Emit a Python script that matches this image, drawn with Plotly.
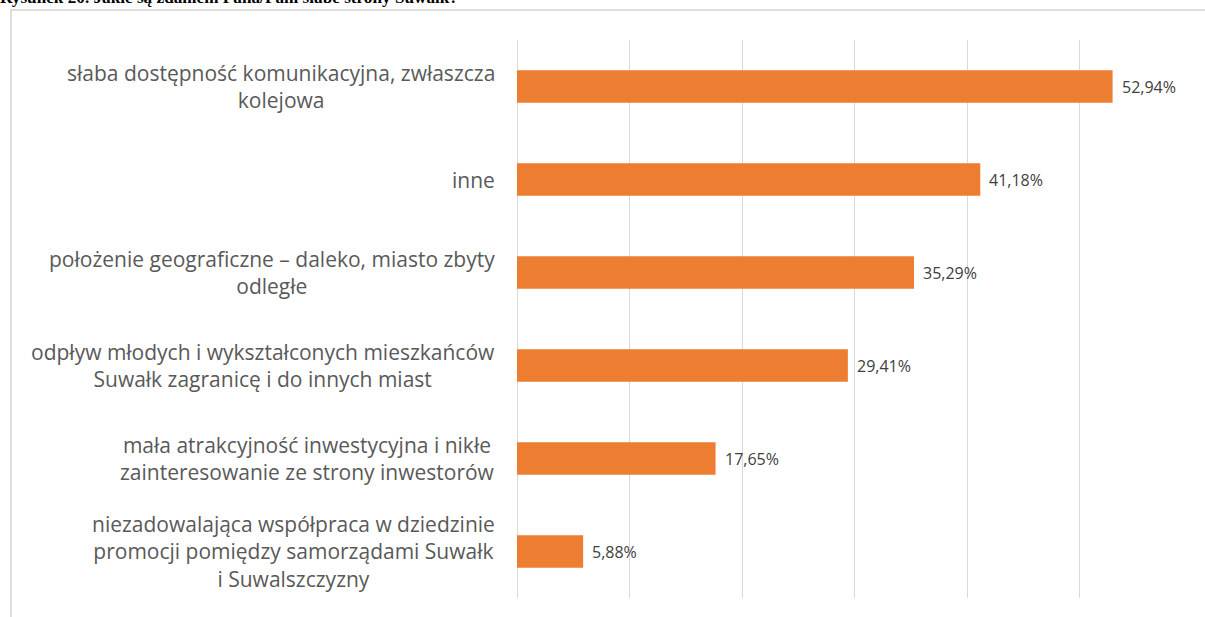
import plotly.graph_objects as go

categories = [
    "słaba dostępność komunikacyjna, zwłaszcza<br>kolejowa",
    "inne",
    "położenie geograficzne – daleko, miasto zbyty<br>odległe",
    "odpływ młodych i wykształconych mieszkańców<br>Suwałk zagranicę i do innych miast",
    "mała atrakcyjność inwestycyjna i nikłe<br>zainteresowanie ze strony inwestorów",
    "niezadowalająca współpraca w dziedzinie<br>promocji pomiędzy samorządami Suwałk<br>i Suwalszczyzny",
]
values = [52.94, 41.18, 35.29, 29.41, 17.65, 5.88]
title_text = "Rysunek 20. Jakie są zdaniem Pana/Pani słabe strony Suwałk?"

labels = [f"{v:.2f}".replace(".", ",") + "%" for v in values]

W, H = 1205, 617
ml, mt = 517, 40
mr = W - 1192
mb = H - 598
pw, ph = W - ml - mr, H - mt - mb

def px_x(px):
    return (px - ml) / pw

def px_y(py):
    return (H - mb - py) / ph

fig = go.Figure()
fig.add_trace(go.Bar(
    x=values, y=categories, orientation="h",
    marker=dict(color="#ED7D31", line=dict(width=0)),
    width=0.35,
    hoverinfo="skip",
))

annotations = []
for c in categories:
    annotations.append(dict(
        x=0, xref="paper", y=c, yref="y", xanchor="right", yanchor="middle",
        xshift=-20, text=c, showarrow=False, align="center",
        font=dict(family="Open Sans, Lato, sans-serif", size=21, color="#595959"),
    ))
for c, v, t in zip(categories, values, labels):
    annotations.append(dict(
        x=v, xref="x", y=c, yref="y", xanchor="left", yanchor="middle",
        xshift=7, text=t, showarrow=False,
        font=dict(family="Open Sans, Lato, sans-serif", size=16, color="#404040"),
    ))
annotations.append(dict(
    x=px_x(-2), xref="paper", y=px_y(-3), yref="paper", xanchor="left", yanchor="middle",
    text="<b>" + title_text + "</b>", showarrow=False,
    font=dict(family="Liberation Serif, Times New Roman, serif", size=17.2, color="#000000"),
))

fig.update_layout(
    width=W, height=H,
    margin=dict(l=ml, r=mr, t=mt, b=mb),
    paper_bgcolor="white", plot_bgcolor="white",
    showlegend=False,
    annotations=annotations,
    shapes=[dict(type="rect", xref="paper", yref="paper",
                 x0=px_x(11), x1=px_x(1240), y0=px_y(10), y1=px_y(650),
                 line=dict(color="#d4d4d4", width=1.5), layer="below")],
    xaxis=dict(range=[0, 60], dtick=10, showticklabels=False, showgrid=True,
               gridcolor="#d9d9d9", gridwidth=1, zeroline=True,
               zerolinecolor="#d9d9d9", zerolinewidth=1, showline=False),
    yaxis=dict(autorange="reversed", showticklabels=False, showgrid=False,
               zeroline=False, showline=False, categoryorder="array",
               categoryarray=categories),
)

fig.write_html("out.html", config={"displayModeBar": False},
               post_script="document.body.style.margin='0px';document.body.style.overflow='hidden';")
